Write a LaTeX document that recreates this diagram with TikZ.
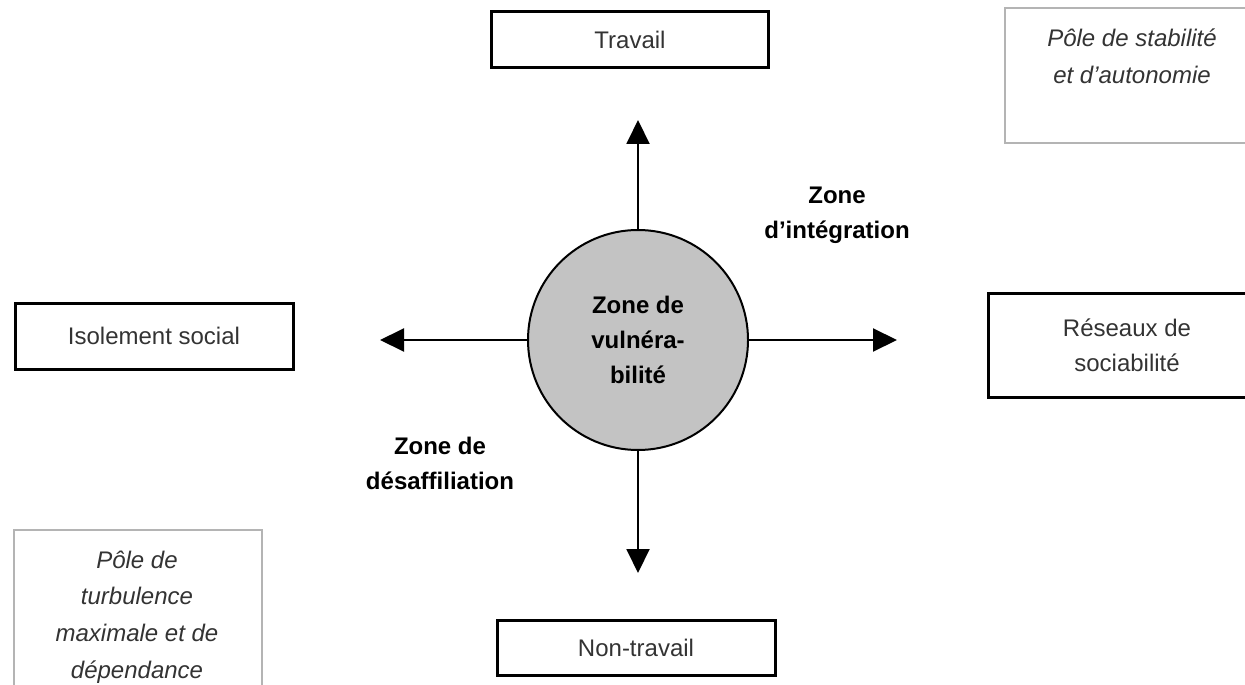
\documentclass[tikz,border=0pt]{standalone}
\usepackage{fontspec}
\setmainfont{Liberation Sans}
\usetikzlibrary{arrows.meta}
\definecolor{texte}{HTML}{333333}
\definecolor{bordgris}{HTML}{B4B4B4}
\definecolor{fondcercle}{HTML}{C3C3C3}

\begin{document}
\begin{tikzpicture}[x=0.5pt,y=-0.5pt,
  every node/.style={font=\fontsize{12}{17.5}\selectfont, align=center},
  boite/.style={draw, line width=1.5pt, text=texte, inner sep=0pt},
  pole/.style={draw=bordgris, line width=1pt, inner sep=0pt},
  poletexte/.style={text=texte, font=\fontsize{12}{18.3}\selectfont\itshape},
  zone/.style={font=\fontsize{12}{17.5}\selectfont\bfseries},
  fleche/.style={line width=1pt, -{Triangle[width=11.5pt,length=12pt]}}]
  \path[use as bounding box, clip] (0,0) rectangle (1245,684);

  % les quatre poles
  \node[boite, minimum width=138.5pt, minimum height=28pt] (travail) at (630,40) {Travail};
  \node[boite, minimum width=139pt, minimum height=27.5pt] (nontravail) at (636,648) {Non-travail};
  \node[boite, minimum width=139pt, minimum height=33pt] (isolement) at (154,336) {Isolement social};
  \node[boite, minimum width=139pt, minimum height=52pt] (reseaux) at (1127,345) {R\'eseaux de\\sociabilit\'e};

  % le cercle central
  \node[circle, draw, line width=1pt, fill=fondcercle, minimum size=110pt, zone] (vuln) at (638,340) {Zone de\\vuln\'era-\\bilit\'e};

  \coordinate (haut)   at (638,120);
  \coordinate (bas)    at (638,573);
  \coordinate (gauche) at (380,340);
  \coordinate (droite) at (897,340);
  \draw[fleche] (vuln) -- (haut);
  \draw[fleche] (vuln) -- (bas);
  \draw[fleche] (vuln) -- (gauche);
  \draw[fleche] (vuln) -- (droite);

  \node[zone] (integration) at (837,215) {Zone\\d'int\'egration};
  \node[zone] (desaffiliation) at (440,463) {Zone de\\d\'esaffiliation};

  % les coins
  \node[pole, minimum width=127pt, minimum height=67.5pt] (stabilite) at (1132,75.5) {};
  \node[poletexte] (stabtexte) at (1132,56) {P\^ole de stabilit\'e\\et d'autonomie};
  \node[pole, minimum width=124pt, minimum height=90pt] (turbulence) at (138,620) {};
  \node[poletexte] (turbtexte) at (137,617) {P\^ole de\\turbulence\\maximale et de\\d\'ependance};
\end{tikzpicture}
\end{document}
